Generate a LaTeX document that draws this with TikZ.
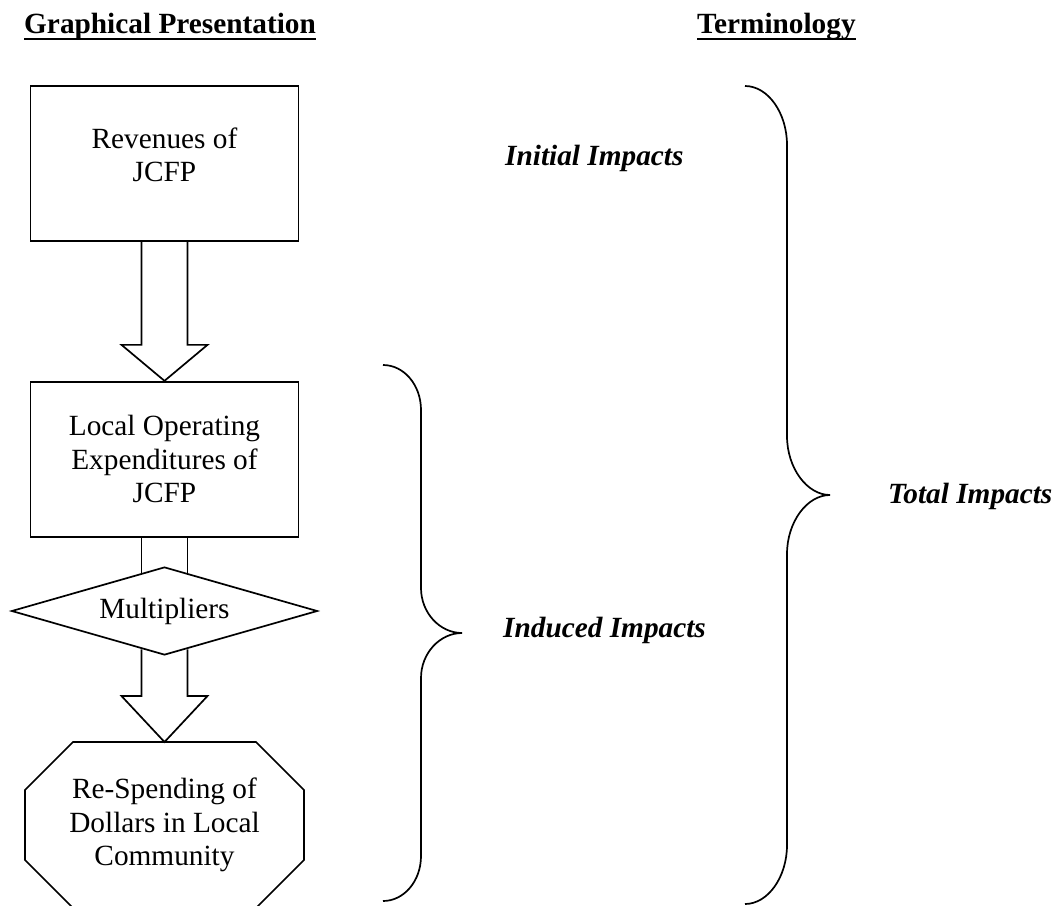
\documentclass[tikz,border=0pt]{standalone}
\usepackage{fontspec}
\setmainfont{Liberation Serif}
\usetikzlibrary{positioning,calc,shapes.geometric}

\begin{document}
\begin{tikzpicture}[
  x=1pt,y=-1pt,
  font=\fontsize{29.3}{33.5}\selectfont,
  box/.style={draw,line width=1.7pt,fill=white,minimum width=268pt,
    minimum height=155pt,inner sep=0pt,align=center},
  decide/.style={draw,line width=1.7pt,fill=white,diamond,aspect=3.48,
    minimum width=306pt,minimum height=88pt,inner sep=0pt},
  octa/.style={minimum width=279pt,minimum height=166pt,inner sep=0pt,
    outer sep=0pt,align=center},
  blk/.style={line width=1.7pt,line join=miter},
  brc/.style={line width=1.7pt},
  uline/.style={line width=2.4pt},
  head/.style={font=\fontsize{29.3}{33.5}\selectfont\bfseries,
    anchor=base west,inner sep=0pt},
  term/.style={font=\fontsize{29.3}{33.5}\selectfont\bfseries\itshape,
    anchor=base west,inner sep=0pt}
]
\useasboundingbox (0,0) rectangle (1059,905);
\clip (0,0) rectangle (1059,905);

% column headings
\node[head] (gp) at (24,33) {Graphical Presentation};
\node[head] (tm) at (697,33) {Terminology};
\draw[uline] ($(gp.base west)+(0,6)$) -- ($(gp.base east)+(0,6)$);
\draw[uline] ($(tm.base west)+(0,6)$) -- ($(tm.base east)+(0,6)$);

% flow chart
\node[box] (rev) at (164.5,163.5) {};
\node[align=center] (revtxt) at (164.5,155) {Revenues of\\JCFP};
\node[box,below=139pt of rev] (loc)
  {Local Operating\\Expenditures of\\JCFP};
\node[decide] (mult) at (164.5,611) {Multipliers};
\node[octa] (oct) at (164.5,825)
  {Re-Spending of\\Dollars in Local\\Community};
\draw[line width=1.7pt,line join=miter]
  ($(oct.north west)+(48,0)$) -- ($(oct.north east)+(-48,0)$)
  -- ($(oct.north east)+(0,48)$) -- ($(oct.south east)+(0,-48)$)
  -- ($(oct.south east)+(-48,0)$) -- ($(oct.south west)+(48,0)$)
  -- ($(oct.south west)+(0,-48)$) -- ($(oct.north west)+(0,48)$)
  -- cycle;

\draw[blk] ($(rev.south)+(-23,0)$) -- ($(loc.north)+(-23,-36)$)
  -- ($(loc.north)+(-43,-36)$) -- (loc.north)
  -- ($(loc.north)+(43,-36)$) -- ($(loc.north)+(23,-36)$)
  -- ($(rev.south)+(23,0)$);
\draw[blk] ($(loc.south)+(-23,0)$) -- ($(mult.north)+(-23,6.6)$);
\draw[blk] ($(loc.south)+(23,0)$) -- ($(mult.north)+(23,6.6)$);
\draw[blk] ($(mult.south)+(-23,-6.6)$) -- ($(oct.north)+(-23,-46)$)
  -- ($(oct.north)+(-43,-46)$) -- (oct.north)
  -- ($(oct.north)+(43,-46)$) -- ($(oct.north)+(23,-46)$)
  -- ($(mult.south)+(23,-6.6)$);

% braces
\draw[brc] (383,365) .. controls (404,365) and (421,385) .. (421,410)
  -- (421,588) .. controls (421,613) and (440,633) .. (462,633)
  .. controls (440,633) and (421,653) .. (421,678)
  -- (421,856) .. controls (421,881) and (404,901) .. (383,901);
\draw[brc] (745,86) .. controls (768,86) and (787,113) .. (787,145)
  -- (787,436) .. controls (787,468) and (807,495) .. (830,495)
  .. controls (807,495) and (787,522) .. (787,554)
  -- (787,845) .. controls (787,877) and (768,904) .. (745,904);

% terminology
\node[term] (ini) at (505,165) {Initial Impacts};
\node[term] (ind) at (503,637) {Induced Impacts};
\node[term] (tot) at (888,503) {Total Impacts};
\end{tikzpicture}
\end{document}
